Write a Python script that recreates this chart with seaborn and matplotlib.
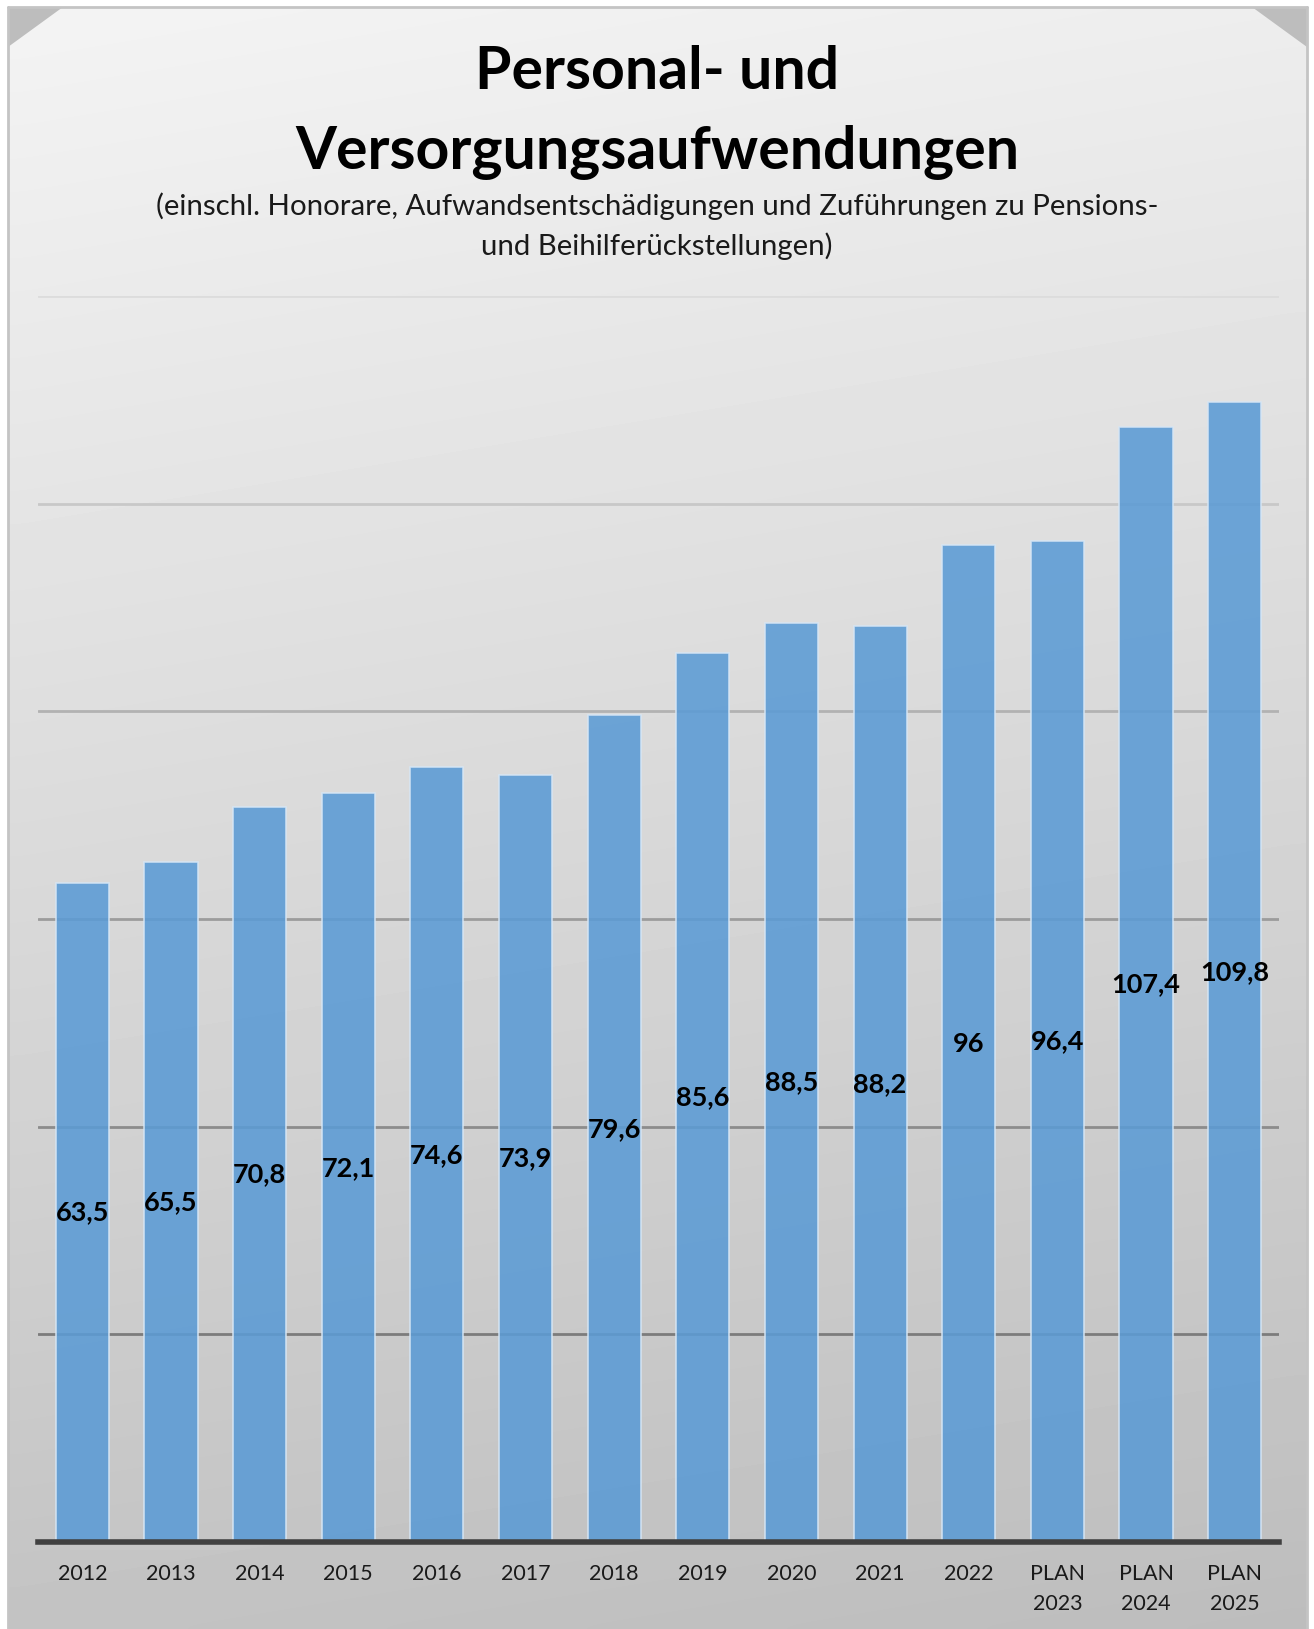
import numpy as np
import pandas as pd
import matplotlib
matplotlib.use("Agg")
import matplotlib.pyplot as plt
from matplotlib.patches import Polygon
import seaborn as sns

# Data (Mio. EUR)
categories = ["2012", "2013", "2014", "2015", "2016", "2017", "2018", "2019",
              "2020", "2021", "2022", "PLAN\n2023", "PLAN\n2024", "PLAN\n2025"]
values = [63.5, 65.5, 70.8, 72.1, 74.6, 73.9, 79.6, 85.6,
          88.5, 88.2, 96.0, 96.4, 107.4, 109.8]
value_labels = ["63,5", "65,5", "70,8", "72,1", "74,6", "73,9", "79,6", "85,6",
                "88,5", "88,2", "96", "96,4", "107,4", "109,8"]
y_ticks = [0, 20, 40, 60, 80, 100, 120]

df = pd.DataFrame({"Jahr": categories, "Wert": values})

sns.set_theme(style="white")
plt.rcParams["font.family"] = ["Lato", "DejaVu Sans"]

W, H = 1314, 1629
fig = plt.figure(figsize=(W / 100, H / 100), dpi=100)
fig.patch.set_facecolor("white")

# Background panel with chamfered top corners and a vertical grey gradient
bg = fig.add_axes([0, 0, 1, 1], zorder=0)
bg.axis("off")
corner = Polygon([(8, 7), (1307, 7), (1307, 1629), (8, 1629)],
                 closed=True, facecolor="#bdbdbd", edgecolor="none", zorder=1)
bg.add_patch(corner)
yy = np.linspace(0, 1, 256)[:, None]
xx = np.linspace(0, 1, 64)[None, :]
grad = 0.955 - 0.19 * yy - 0.025 * xx
img = bg.imshow(grad, cmap="gray", vmin=0, vmax=1, extent=[8, 1307, 1629, 7],
                aspect="auto", interpolation="bicubic", zorder=2)
panel = Polygon([(63, 7), (1252, 7), (1307, 47), (1307, 1629), (8, 1629), (8, 47)],
                closed=True, transform=bg.transData)
img.set_clip_path(panel)
bg.plot([8, 8], [7, 1629], color="#c4c4c4", lw=2, zorder=3)
bg.plot([1307, 1307], [7, 1629], color="#c4c4c4", lw=2, zorder=3)
bg.plot([8, 1307], [7, 7], color="#c4c4c4", lw=2, zorder=3)
bg.set_xlim(0, W)
bg.set_ylim(H, 0)

# Main chart axes (pixel geometry: x 38..1279, y 296..1542)
left, right, top, bottom = 38, 1279, 296, 1542
ax = fig.add_axes([left / W, 1 - bottom / H, (right - left) / W, (bottom - top) / H], zorder=1)
ax.patch.set_alpha(0)

sns.barplot(data=df, x="Jahr", y="Wert", ax=ax, color="#5b9bd5", width=0.6,
            saturation=1, alpha=0.88, edgecolor="#d6e6f5", linewidth=1.2, zorder=3)

ax.set_ylim(0, 120)
ax.set_xlim(-0.5, len(categories) - 0.5)
ax.set_yticks(y_ticks)
ax.set_yticklabels([])
ax.tick_params(axis="y", length=0)
ax.tick_params(axis="x", length=0, pad=16, labelsize=15.5, labelcolor="#1a1a1a")
ax.set_xlabel("")
ax.set_ylabel("")
for s in ["left", "right", "top"]:
    ax.spines[s].set_visible(False)
ax.spines["bottom"].set_color("#404040")
ax.spines["bottom"].set_linewidth(4)
ax.spines["bottom"].set_zorder(5)

grid_colors = ["#7c7c7c", "#8c8c8c", "#9c9c9c", "#b2b2b2", "#c8c8c8", "#dcdcdc"]
for yv, c in zip(y_ticks[1:], grid_colors):
    ax.axhline(yv, color=c, lw=2, zorder=2)

for i, (v, lab) in enumerate(zip(values, value_labels)):
    ax.text(i, v / 2, lab, ha="center", va="center", fontsize=19.5,
            fontweight="bold", color="black", zorder=6)

for t in ax.get_xticklabels():
    t.set_linespacing(1.62)
    t.set_verticalalignment("top")

fig.text(0.5, 1 - 72 / H, "Personal- und", ha="center", va="center",
         fontsize=42.5, fontweight="bold", color="black")
fig.text(0.5, 1 - 152 / H, "Versorgungsaufwendungen", ha="center", va="center",
         fontsize=42.5, fontweight="bold", color="black")
fig.text(0.5, 1 - 206 / H,
         "(einschl. Honorare, Aufwandsentschädigungen und Zuführungen zu Pensions-",
         ha="center", va="center", fontsize=21.2, color="#1a1a1a")
fig.text(0.5, 1 - 246 / H, "und Beihilferückstellungen)", ha="center", va="center",
         fontsize=21.2, color="#1a1a1a")

fig.savefig("out.png", dpi=100, facecolor=fig.get_facecolor())
